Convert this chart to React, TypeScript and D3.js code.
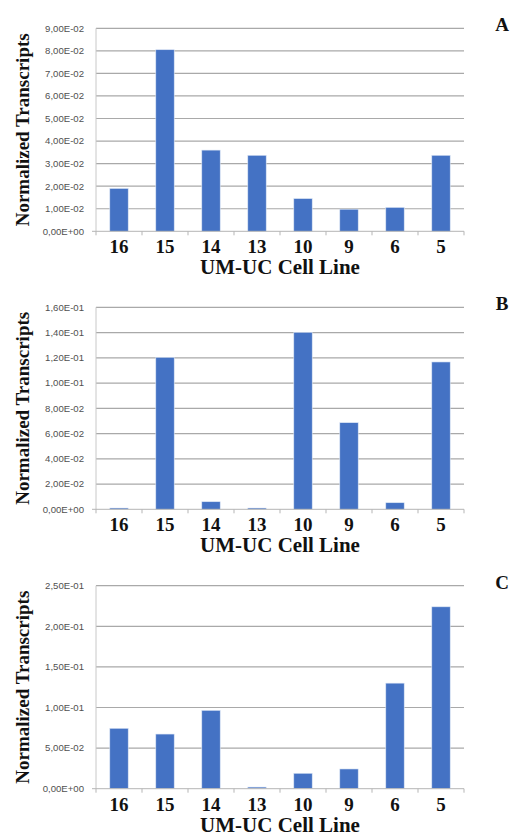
import React, { useEffect, useRef } from 'react';
import * as d3 from 'd3';

const cellLines = ['16', '15', '14', '13', '10', '9', '6', '5'];

const valuesA = [0.019, 0.0805, 0.036, 0.0337, 0.0145, 0.0098, 0.0106, 0.0337];
const valuesB = [0.001, 0.1204, 0.006, 0.001, 0.1402, 0.0686, 0.0052, 0.1167];
const valuesC = [0.0744, 0.0673, 0.0965, 0.002, 0.019, 0.0243, 0.13, 0.224];

const ticksA = [0, 0.01, 0.02, 0.03, 0.04, 0.05, 0.06, 0.07, 0.08, 0.09];
const tickLabelsA = ['0,00E+00', '1,00E-02', '2,00E-02', '3,00E-02', '4,00E-02', '5,00E-02', '6,00E-02', '7,00E-02', '8,00E-02', '9,00E-02'];
const ticksB = [0, 0.02, 0.04, 0.06, 0.08, 0.1, 0.12, 0.14, 0.16];
const tickLabelsB = ['0,00E+00', '2,00E-02', '4,00E-02', '6,00E-02', '8,00E-02', '1,00E-01', '1,20E-01', '1,40E-01', '1,60E-01'];
const ticksC = [0, 0.05, 0.1, 0.15, 0.2, 0.25];
const tickLabelsC = ['0,00E+00', '5,00E-02', '1,00E-01', '1,50E-01', '2,00E-01', '2,50E-01'];

const panelLetters = ['A', 'B', 'C'];

const App = () => {
  const svgRef = useRef(null);

  useEffect(() => {
    const svg = d3.select(svgRef.current);
    svg.selectAll('*').remove();

    const panels = [
      { letter: panelLetters[0], values: valuesA, ticks: ticksA, labels: tickLabelsA, top: 28.3, bottom: 231.3 },
      { letter: panelLetters[1], values: valuesB, ticks: ticksB, labels: tickLabelsB, top: 307.3, bottom: 509.3 },
      { letter: panelLetters[2], values: valuesC, ticks: ticksC, labels: tickLabelsC, top: 585.7, bottom: 788.7 },
    ];

    const left = 96;
    const right = 464;
    const serif = '"Liberation Serif", "Times New Roman", serif';

    const x = d3.scaleBand().domain(cellLines).range([left, right]).padding(0);
    const barW = x.bandwidth() * 0.4;

    panels.forEach(p => {
      const g = svg.append('g');
      const y = d3.scaleLinear()
        .domain([0, p.ticks[p.ticks.length - 1]])
        .range([p.bottom, p.top]);

      // gridlines
      g.selectAll('.grid')
        .data(p.ticks.slice(1))
        .enter().append('line')
        .attr('x1', left)
        .attr('x2', right)
        .attr('y1', d => y(d))
        .attr('y2', d => y(d))
        .attr('stroke', '#a9a9a9')
        .attr('stroke-width', 1.2);

      // left axis line
      g.append('line')
        .attr('x1', left).attr('x2', left)
        .attr('y1', p.top).attr('y2', p.bottom)
        .attr('stroke', '#c8c8c8')
        .attr('stroke-width', 1);

      // bars
      g.selectAll('.bar')
        .data(p.values)
        .enter().append('rect')
        .attr('x', (d, i) => x(cellLines[i]) + (x.bandwidth() - barW) / 2)
        .attr('y', d => y(d))
        .attr('width', barW)
        .attr('height', d => p.bottom - y(d))
        .attr('fill', '#4472c4')
        .attr('stroke', '#dce6f5')
        .attr('stroke-width', 0.6);

      // bottom axis
      const xAxis = g.append('g');
      xAxis.append('line')
        .attr('x1', left - 4).attr('x2', right)
        .attr('y1', p.bottom).attr('y2', p.bottom)
        .attr('stroke', '#b5b5b5')
        .attr('stroke-width', 1);
      const bounds = cellLines.map(c => x(c)).concat([right]);
      xAxis.selectAll('.tick')
        .data(bounds)
        .enter().append('line')
        .attr('x1', d => d).attr('x2', d => d)
        .attr('y1', p.bottom).attr('y2', p.bottom + 4)
        .attr('stroke', '#b5b5b5')
        .attr('stroke-width', 1);

      xAxis.selectAll('.xlabel')
        .data(cellLines)
        .enter().append('text')
        .attr('x', d => x(d) + x.bandwidth() / 2)
        .attr('y', p.bottom + 22)
        .attr('text-anchor', 'middle')
        .style('font-family', serif)
        .style('font-weight', 'bold')
        .style('font-size', '19px')
        .attr('fill', '#111')
        .text(d => d);

      // y tick labels
      g.selectAll('.ylabel')
        .data(p.ticks)
        .enter().append('text')
        .attr('x', 84)
        .attr('y', d => y(d))
        .attr('dy', '0.35em')
        .attr('text-anchor', 'end')
        .style('font-family', '"Liberation Sans", Arial, sans-serif')
        .style('font-size', '9.6px')
        .attr('fill', '#505050')
        .text((d, i) => p.labels[i]);

      // x title
      g.append('text')
        .attr('x', 280)
        .attr('y', p.bottom + 43)
        .attr('text-anchor', 'middle')
        .style('font-family', serif)
        .style('font-weight', 'bold')
        .style('font-size', '21px')
        .attr('fill', '#111')
        .text('UM-UC Cell Line');

      // y title
      g.append('text')
        .attr('transform', `translate(29, ${(p.top + p.bottom) / 2}) rotate(-90)`)
        .attr('text-anchor', 'middle')
        .style('font-family', serif)
        .style('font-weight', 'bold')
        .style('font-size', '19px')
        .attr('fill', '#111')
        .text('Normalized Transcripts');

      // panel letter
      g.append('text')
        .attr('x', 502)
        .attr('y', p.top + 3)
        .attr('text-anchor', 'middle')
        .style('font-family', serif)
        .style('font-weight', 'bold')
        .style('font-size', '19px')
        .attr('fill', '#111')
        .text(p.letter);
    });
  }, []);

  return (
    <svg
      ref={svgRef}
      width={510}
      height={834}
      style={{ position: 'absolute', left: 0, top: 0, background: '#fff' }}
    ></svg>
  );
};

export default App;
